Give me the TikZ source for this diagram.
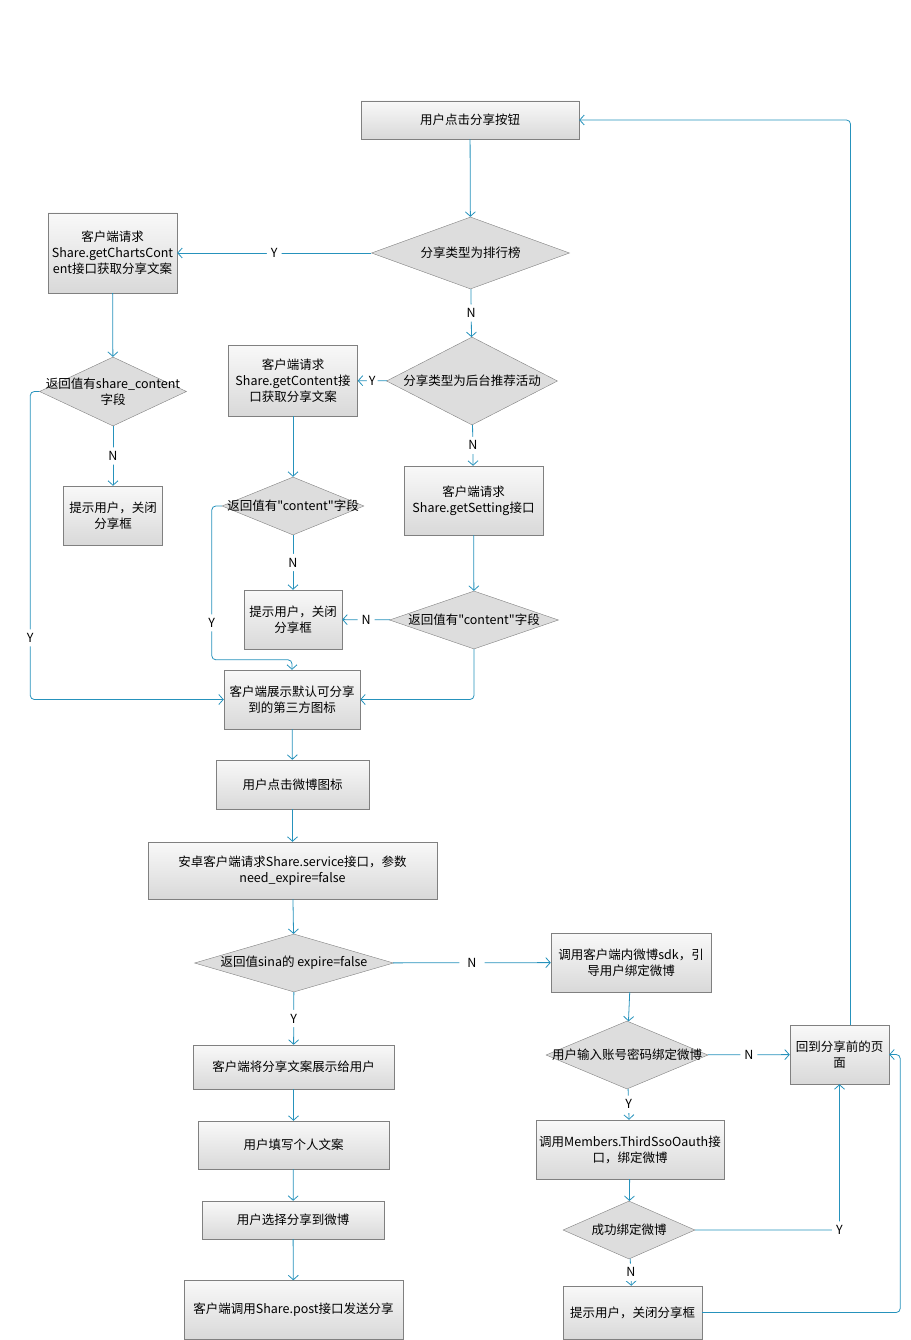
\documentclass[tikz,border=0pt]{standalone}
\usepackage{fontspec}
\setmainfont{Noto Sans CJK SC}[Ligatures=TeXOff]
\usetikzlibrary{arrows.meta,shapes.geometric}
\definecolor{flowblue}{RGB}{38,146,188}

\begin{document}
\begin{tikzpicture}[x=1pt,y=-1pt,
	font=\fontsize{12.5}{16}\selectfont,
	box/.style 2 args={draw=gray, top color=gray!5, bottom color=gray!30, align=center, inner sep=0pt, minimum width=#1pt, minimum height=#2pt},
	decision/.style 2 args={diamond, draw=gray, fill=gray!27, align=center, inner sep=-90pt, minimum width=#1pt, minimum height=#2pt},
	link/.style={draw=flowblue, line width=0.8pt, rounded corners=4pt, -{Straight Barb[length=4.5pt,width=10pt]}},
	yn/.style={fill=white, inner sep=4pt}]
				\useasboundingbox (0,0) rectangle (910,1340);
				\node[box={218}{38}] (start) at (470,120) {用户点击分享按钮};
				\node[decision={198}{72}] (rank) at (470.5,253) {分享类型为排行榜};
				\node[box={129}{80}] (charts) at (112.5,253) {客户端请求\\Share.getChartsCont\\ent接口获取分享文案};
				\node[decision={147}{69}] (share) at (113,391.5) {返回值有share\_content\\字段};
				\node[box={99}{59}] (tipa) at (113,515.5) {提示用户，关闭\\分享框};
				\node[decision={171}{88}] (promo) at (472,381) {分享类型为后台推荐活动};
				\node[box={129}{71}] (content) at (293,380.5) {客户端请求\\Share.getContent接\\口获取分享文案};
				\node[decision={142}{58}] (checkb) at (293,506) {返回值有"content"字段};
				\node[box={98}{59}] (tipb) at (293,619.5) {提示用户，关闭\\分享框};
				\node[box={139}{69}] (setting) at (473.5,500.5) {客户端请求\\Share.getSetting接口};
				\node[decision={169}{58}] (checkc) at (474,620) {返回值有"content"字段};
				\node[box={136}{59}] (icons) at (292,699.5) {客户端展示默认可分享\\到的第三方图标};
				\node[box={153}{49}] (weibo) at (292.5,784.5) {用户点击微博图标};
				\node[box={289}{57}] (service) at (292.5,870.5) {安卓客户端请求Share.service接口，参数\\need\_expire=false};
				\node[decision={199}{58}] (expire) at (294,963) {返回值sina的 expire=false};
				\node[box={201}{44}] (text) at (293.5,1067) {客户端将分享文案展示给用户};
				\node[box={191}{48}] (write) at (293.5,1145) {用户填写个人文案};
				\node[box={182}{38}] (choose) at (293,1220) {用户选择分享到微博};
				\node[box={219}{59}] (post) at (293.5,1310) {客户端调用Share.post接口发送分享};
				\node[box={160}{59}] (sdk) at (631,962.5) {调用客户端内微博sdk，引\\导用户绑定微博};
				\node[decision={162}{68}] (bind) at (627,1055) {用户输入账号密码绑定微博};
				\node[box={99}{59}] (back) at (839.5,1054.5) {回到分享前的页\\面};
				\node[box={188}{59}] (oauth) at (630,1149.5) {调用Members.ThirdSsoOauth接\\口，绑定微博};
				\node[decision={132}{58}] (success) at (629,1230) {成功绑定微博};
				\node[box={139}{53}] (tipc) at (632.5,1312.5) {提示用户，关闭分享框};
				\draw[link] (start) -- (rank);
				\draw[link] (rank) -- node[yn]{Y} (charts);
				\draw[link] (rank) -- node[yn]{N} (promo);
				\draw[link] (charts) -- (share);
				\draw[link] (share) -- node[yn]{N} (tipa);
				\draw[link] (share.west) -- ++(-9,0) |- node[yn,pos=0.4]{Y} (icons.west);
				\draw[link] (promo) -- node[yn,inner sep=2pt]{Y} (content);
				\draw[link] (content) -- (checkb);
				\draw[link] (checkb) -- node[yn]{N} (tipb);
				\draw[link] (checkb.west) -- ++(-10,0) |- node[yn,pos=0.38]{Y} ([yshift=10pt]icons.north) -- (icons.north);
				\draw[link] (promo) -- node[yn]{N} (setting);
				\draw[link] (setting) -- (checkc);
				\draw[link] (checkc) -- node[yn]{N} (tipb);
				\draw[link] (checkc) |- (icons.east);
				\draw[link] (icons) -- (weibo);
				\draw[link] (weibo) -- (service);
				\draw[link] (service) -- (expire);
				\draw[link] (expire) -- node[yn]{Y} (text);
				\draw[link] (expire) -- node[yn,inner sep=8pt]{N} (sdk);
				\draw[link] (text) -- (write);
				\draw[link] (write) -- (choose);
				\draw[link] (choose) -- (post);
				\draw[link] (sdk) -- (bind);
				\draw[link] (bind) -- node[yn]{N} (back);
				\draw[link] (bind) -- node[yn]{Y} (oauth);
				\draw[link] (oauth) -- (success);
				\draw[link] (success) -| node[yn]{Y} (back);
				\draw[link] (success) -- node[yn]{N} (tipc);
				\draw[link] (tipc.east) -- ++(198,0) |- (back.east);
				\draw[link] ([xshift=11pt]back.north) |- (start.east);
			\end{tikzpicture}
\end{document}
